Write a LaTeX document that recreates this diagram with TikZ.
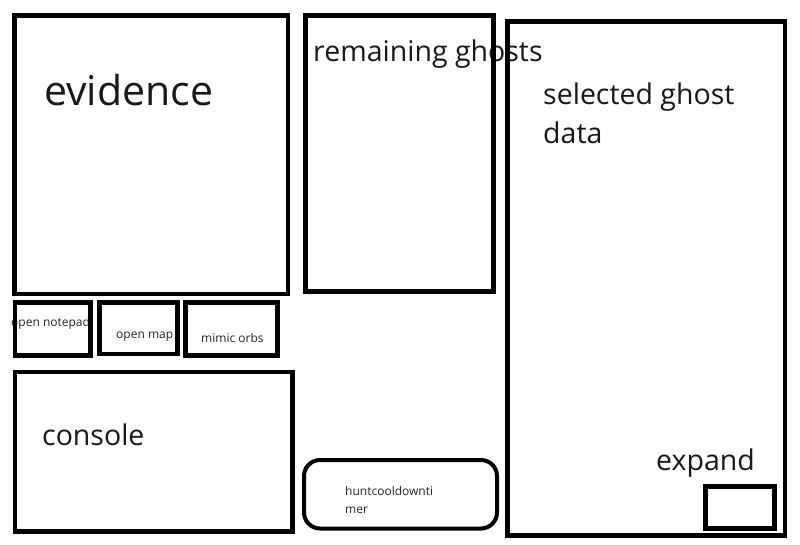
\documentclass[tikz,border=0pt]{standalone}
\usepackage{fontspec}
\setmainfont{Open Sans}
\begin{document}
\begin{tikzpicture}[x=1pt,y=-1pt,
  panel/.style={draw=black,line width=4.5pt,fill=none,inner sep=0pt,anchor=north west},
  big/.style={anchor=base west,inner sep=0pt,font=\fontsize{28.5}{34}\selectfont,text=black!90},
  small/.style={anchor=base west,inner sep=0pt,font=\fontsize{12}{14}\selectfont,text=black!85}]
\useasboundingbox[fill=white] (0,0) rectangle (800,545);
% texts
\node[big,font=\fontsize{41}{48}\selectfont] (tevidence) at (44,106) {evidence};
\node[big] (tremain) at (313,62) {remaining ghosts};
\node[big] (tsel1) at (543,105) {selected ghost};
\node[big] (tsel2) at (543,144) {data};
\node[big] (tconsole) at (42,445) {console};
\node[big] (texpand) at (656,470) {expand};
\node[small] (tnotepad) at (11,326) {open notepad};
\node[small] (tmap) at (116,338) {open map};
\node[small] (torbs) at (201,342) {mimic orbs};
\node[small] (thunt1) at (345,495) {huntcooldownti};
\node[small] (thunt2) at (345,513) {mer};
% boxes
\draw[line width=4.5pt] (14.5,15.5) rectangle (288,294);
\draw[line width=4.5pt] (305.5,15.5) rectangle (493.5,291.5);
\draw[line width=4.5pt] (507.5,21.5) rectangle (785,535.5);
\draw[line width=4.5pt] (15,302.5) rectangle (90.5,355.5);
\draw[line width=4.5pt] (99.5,302.5) rectangle (177.5,354);
\draw[line width=4.5pt] (185.5,302.5) rectangle (277.5,355.5);
\draw[line width=4.5pt] (15,372) rectangle (292.5,531.5);
\draw[line width=4pt,rounded corners=16pt] (304,460) rectangle (497,528.5);
\draw[line width=4.5pt] (705.5,486.5) rectangle (774.5,528.5);
\end{tikzpicture}
\end{document}
